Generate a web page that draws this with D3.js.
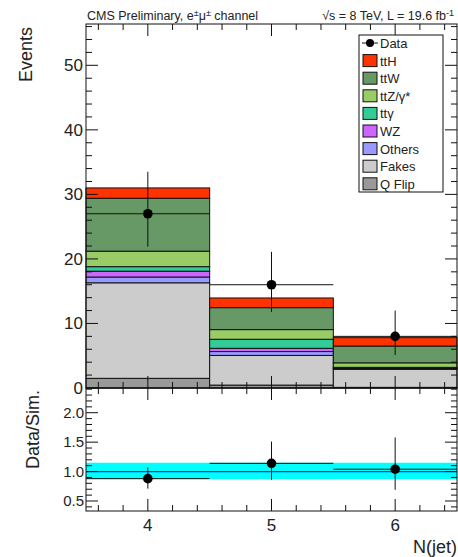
<!DOCTYPE html>
<html>
<head>
<meta charset="utf-8">
<script src="https://cdn.jsdelivr.net/npm/d3@7"></script>
<style>
  body { margin: 0; background: #fff; }
  text { font-family: "Liberation Sans", Arial, sans-serif; fill: #222; }
</style>
</head>
<body>
<div id="chart"></div>
<script>
// N(jet) bins and stacked backgrounds (events), bottom to top
const bins = [4, 5, 6];
const qflip = [1.5, 0.45, 0.1];
const fakes = [14.8, 4.6, 2.8];
const others = [0.9, 0.6, 0.1];
const wz = [0.9, 0.5, 0.1];
const ttgamma = [0.7, 1.4, 0.1];
const ttz = [2.4, 1.5, 0.7];
const ttw = [8.2, 3.4, 2.6];
const tth = [1.6, 1.5, 1.3];

// observed data with asymmetric errors
const data = [27, 16, 8];
const dataHi = [33.5, 21.1, 12.0];
const dataLo = [21.9, 11.8, 5.1];

// ratio panel
const ratio = [0.88, 1.14, 1.04];
const ratioHi = [1.07, 1.51, 1.58];
const ratioLo = [0.71, 0.86, 0.69];
const bandLo = 0.87;
const bandHi = 1.15;

const mainTicks = [0, 10, 20, 30, 40, 50];
const ratioTicks = [0.5, 1.0, 1.5, 2.0];

const layers = [
  { name: 'Q Flip', values: qflip, color: '#999999' },
  { name: 'Fakes', values: fakes, color: '#cccccc' },
  { name: 'Others', values: others, color: '#9999ff' },
  { name: 'WZ', values: wz, color: '#cc66ff' },
  { name: 'tt\u03b3', values: ttgamma, color: '#33cc99' },
  { name: 'ttZ/\u03b3*', values: ttz, color: '#99cc66' },
  { name: 'ttW', values: ttw, color: '#669966' },
  { name: 'ttH', values: tth, color: '#ff3300' }
];

const width = 458, height = 557;
const left = 86, right = 457;
const mainTop = 24, mainBottom = 388, ratioBottom = 511;

const svg = d3.select('#chart').append('svg')
  .attr('width', width).attr('height', height);

const x = d3.scaleLinear().domain([3.5, 6.5]).range([left, right]);
const y = d3.scaleLinear().domain([0, 56.4]).range([mainBottom, mainTop]);
const yr = d3.scaleLinear().domain([0.33, 2.42]).range([ratioBottom, mainBottom]);

// stack the layers
const table = bins.map((b, i) => {
  const row = { bin: b };
  layers.forEach(l => { row[l.name] = l.values[i]; });
  return row;
});
const stack = d3.stack().keys(layers.map(l => l.name))(table);

const g = svg.append('g');
stack.forEach((s, k) => {
  g.selectAll(null).data(s).enter().append('rect')
    .attr('x', d => x(d.data.bin - 0.5))
    .attr('width', d => x(d.data.bin + 0.5) - x(d.data.bin - 0.5))
    .attr('y', d => y(d[1]))
    .attr('height', d => y(d[0]) - y(d[1]))
    .attr('fill', layers[k].color)
    .attr('stroke', '#111')
    .attr('stroke-width', 1);
});

// data points
const pts = svg.append('g');
bins.forEach((b, i) => {
  pts.append('line').attr('x1', x(b - 0.5)).attr('x2', x(b + 0.5))
    .attr('y1', y(data[i])).attr('y2', y(data[i])).attr('stroke', '#111').attr('stroke-width', 1);
  pts.append('line').attr('x1', x(b)).attr('x2', x(b))
    .attr('y1', y(dataHi[i])).attr('y2', y(dataLo[i])).attr('stroke', '#111').attr('stroke-width', 1);
  pts.append('circle').attr('cx', x(b)).attr('cy', y(data[i])).attr('r', 4.8).attr('fill', '#000');
});

// ratio panel
svg.append('rect').attr('x', left).attr('width', right - left)
  .attr('y', yr(bandHi)).attr('height', yr(bandLo) - yr(bandHi)).attr('fill', '#00ffff');
svg.append('line').attr('x1', left).attr('x2', right)
  .attr('y1', yr(1)).attr('y2', yr(1)).attr('stroke', '#0033ff').attr('stroke-width', 1.2);
bins.forEach((b, i) => {
  svg.append('line').attr('x1', x(b - 0.5)).attr('x2', x(b + 0.5))
    .attr('y1', yr(ratio[i])).attr('y2', yr(ratio[i])).attr('stroke', '#111');
  svg.append('line').attr('x1', x(b)).attr('x2', x(b))
    .attr('y1', yr(ratioHi[i])).attr('y2', yr(ratioLo[i])).attr('stroke', '#111');
  svg.append('circle').attr('cx', x(b)).attr('cy', yr(ratio[i])).attr('r', 4.8).attr('fill', '#000');
});

// frames with ROOT-style inward ticks
function frame(ys, top, bottom, yMinor, yMajor) {
  const f = svg.append('g').attr('stroke', '#111').attr('stroke-width', 1);
  f.append('rect').attr('x', left).attr('y', top).attr('width', right - left)
    .attr('height', bottom - top).attr('fill', 'none');
  yMinor.forEach(v => {
    const len = yMajor(v) ? 12 : 6;
    f.append('line').attr('x1', left).attr('x2', left + len).attr('y1', ys(v)).attr('y2', ys(v));
    f.append('line').attr('x1', right).attr('x2', right - len).attr('y1', ys(v)).attr('y2', ys(v));
  });
  d3.range(3.6, 6.45, 0.2).forEach(v => {
    const major = Math.abs(v - Math.round(v)) < 0.01;
    const len = major ? 12 : 6;
    f.append('line').attr('x1', x(v)).attr('x2', x(v)).attr('y1', bottom).attr('y2', bottom - len);
    f.append('line').attr('x1', x(v)).attr('x2', x(v)).attr('y1', top).attr('y2', top + len);
  });
}
frame(y, mainTop, mainBottom, d3.range(0, 56.5, 2), v => v % 10 === 0);
frame(yr, mainBottom, ratioBottom,
  d3.range(0.4, 2.42, 0.1).map(v => Math.round(v * 10) / 10),
  v => Math.abs(v * 2 - Math.round(v * 2)) < 0.01);

// tick labels
svg.append('g').selectAll('text').data(mainTicks).enter().append('text')
  .attr('x', 83).attr('y', d => y(d) + 6).attr('text-anchor', 'end')
  .style('font-size', '17px').text(d => d);
svg.append('g').selectAll('text').data(ratioTicks).enter().append('text')
  .attr('x', 84).attr('y', d => yr(d) + 5).attr('text-anchor', 'end')
  .style('font-size', '15px').text(d => d.toFixed(1));
svg.append('g').selectAll('text').data(bins).enter().append('text')
  .attr('x', d => x(d)).attr('y', 531).attr('text-anchor', 'middle')
  .style('font-size', '17px').text(d => d);

// axis titles
svg.append('text').attr('x', right).attr('y', 553).attr('text-anchor', 'end')
  .style('font-size', '18px').text('N(jet)');
svg.append('text').attr('transform', 'translate(32,27) rotate(-90)')
  .attr('text-anchor', 'end').style('font-size', '18px').text('Events');
svg.append('text').attr('transform', 'translate(39,390) rotate(-90)')
  .attr('text-anchor', 'end').style('font-size', '18px').text('Data/Sim.');

// header
const h1 = svg.append('text').attr('x', 87).attr('y', 20).style('font-size', '12.5px');
h1.append('tspan').text('CMS Preliminary, e');
h1.append('tspan').attr('dy', -4).style('font-size', '9px').text('\u00b1');
h1.append('tspan').attr('dy', 4).text('\u03bc');
h1.append('tspan').attr('dy', -4).style('font-size', '9px').text('\u00b1');
h1.append('tspan').attr('dy', 4).text(' channel');
const h2 = svg.append('text').attr('x', 454).attr('y', 20).attr('text-anchor', 'end').style('font-size', '12.5px');
h2.append('tspan').text('\u221as = 8 TeV, L = 19.6 fb');
h2.append('tspan').attr('dy', -4).style('font-size', '9px').text('-1');

// legend
const lg = svg.append('g');
lg.append('rect').attr('x', 359).attr('y', 35).attr('width', 84).attr('height', 157)
  .attr('fill', '#fff').attr('stroke', '#111');
const legendItems = [{ name: 'Data' }].concat(layers.slice().reverse());
legendItems.forEach((d, i) => {
  const cy = 43 + i * 17.6;
  if (d.name === 'Data') {
    lg.append('line').attr('x1', 362).attr('x2', 378).attr('y1', cy).attr('y2', cy).attr('stroke', '#111');
    lg.append('circle').attr('cx', 370).attr('cy', cy).attr('r', 4).attr('fill', '#000');
  } else {
    lg.append('rect').attr('x', 363).attr('y', cy - 6).attr('width', 14).attr('height', 12)
      .attr('fill', d.color).attr('stroke', '#111');
  }
  lg.append('text').attr('x', 380).attr('y', cy + 5).style('font-size', '13px').text(d.name);
});
</script>
</body>
</html>
